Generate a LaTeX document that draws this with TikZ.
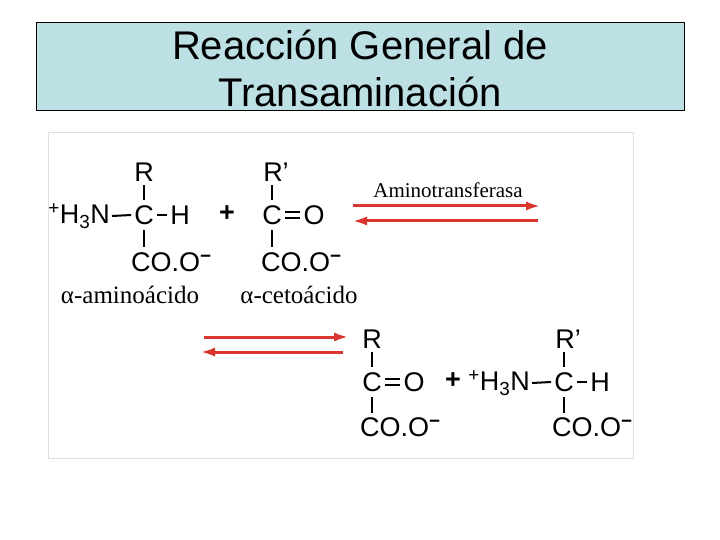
\documentclass[tikz,border=0pt]{standalone}
\usepackage{fontspec}
\usetikzlibrary{arrows.meta}
\setmainfont{Liberation Sans}
\newfontfamily\serif{Liberation Serif}
\definecolor{titlebg}{HTML}{BCE0E4}
\definecolor{arr}{HTML}{D8362E}
\newcommand{\mneg}{\textsuperscript{\textbf{−}}}
\newcommand{\hhn}{\textsuperscript{+}H\textsubscript{3}N}
\begin{document}
\begin{tikzpicture}[x=1pt,y=-1pt,
  atom/.style={inner sep=0pt,font=\fontsize{27}{27}\selectfont},
  bond/.style={line width=2pt},
  rx/.style={arr,line width=3pt,-{Latex[length=15pt,width=9pt]}},
  lbl/.style={inner sep=0pt,font=\serif\fontsize{25}{25}\selectfont}]
\useasboundingbox (0,0) rectangle (720,540);
\node[draw=black,line width=0.8pt,fill=titlebg,minimum width=648,minimum height=88,inner sep=0pt,anchor=north west] (title) at (36,22) {};
\node[font=\fontsize{40}{47}\selectfont,align=center] (tt) at (360,68) {Reacción General de\\Transaminación};
\draw[draw=black!12,line width=1pt] (48,133) rectangle (633,458);
% molecule 1
\node[atom] (c1) at (144,215) {C};
\node[atom] (r1) at (144,172) {R};
\node[atom,anchor=east] (n1) at (110,216) {\hhn};
\node[atom] (h1) at (180,215) {H};
\node[atom,anchor=west] (co1) at (131,262) {CO.O\mneg};
\draw[bond] (144,185) -- (144,200);
\draw[bond] (144,230) -- (144,247);
\draw[bond] ([xshift=2]n1.east) -- ([xshift=-3]c1.west);
\draw[bond] ([xshift=3]c1.east) -- ([xshift=-3]h1.west);
\node[atom,font=\bfseries\fontsize{27}{27}\selectfont] (p1) at (227,214) {+};
% molecule 2
\node[atom] (c2) at (272,215) {C};
\node[atom] (r2) at (276,172) {R’};
\node[atom] (o2) at (314,215) {O};
\node[atom,anchor=west] (co2) at (261,262) {CO.O\mneg};
\draw[bond] (272,185) -- (272,200);
\draw[bond] (272,230) -- (272,247);
\draw[bond] ([xshift=3,yshift=-3]c2.east) -- ([xshift=-3,yshift=-3]o2.west);
\draw[bond] ([xshift=3,yshift=3]c2.east) -- ([xshift=-3,yshift=3]o2.west);
% top arrows
\coordinate (a1s) at (353,206); \coordinate (a1e) at (541,206);
\coordinate (a2s) at (538,221); \coordinate (a2e) at (352,221);
\draw[rx] (a1s) -- (a1e);
\draw[rx] (a2s) -- (a2e);
\node[inner sep=0pt,font=\serif\fontsize{21}{21}\selectfont] (enz) at (448,190) {Aminotransferasa};
\node[lbl] (l1) at (130,295) {α-aminoácido};
\node[lbl] (l2) at (299,295) {α-cetoácido};
% bottom arrows
\coordinate (b1s) at (204,337); \coordinate (b1e) at (349,337);
\coordinate (b2s) at (343,352); \coordinate (b2e) at (200,352);
\draw[rx] (b1s) -- (b1e);
\draw[rx] (b2s) -- (b2e);
% molecule 3
\node[atom] (c3) at (372,382) {C};
\node[atom] (r3) at (372,339) {R};
\node[atom] (o3) at (414,382) {O};
\node[atom,anchor=west] (co3) at (360,427) {CO.O\mneg};
\draw[bond] (372,352) -- (372,367);
\draw[bond] (372,397) -- (372,413);
\draw[bond] ([xshift=3,yshift=-3]c3.east) -- ([xshift=-3,yshift=-3]o3.west);
\draw[bond] ([xshift=3,yshift=3]c3.east) -- ([xshift=-3,yshift=3]o3.west);
\node[atom,font=\bfseries\fontsize{27}{27}\selectfont] (p2) at (453,381) {+};
% molecule 4
\node[atom] (c4) at (564,382) {C};
\node[atom] (r4) at (568,339) {R’};
\node[atom,anchor=east] (n4) at (530,383) {\hhn};
\node[atom] (h4) at (600,382) {H};
\node[atom,anchor=west] (co4) at (552,427) {CO.O\mneg};
\draw[bond] (564,352) -- (564,367);
\draw[bond] (564,397) -- (564,413);
\draw[bond] ([xshift=2]n4.east) -- ([xshift=-3]c4.west);
\draw[bond] ([xshift=3]c4.east) -- ([xshift=-3]h4.west);
\end{tikzpicture}
\end{document}
